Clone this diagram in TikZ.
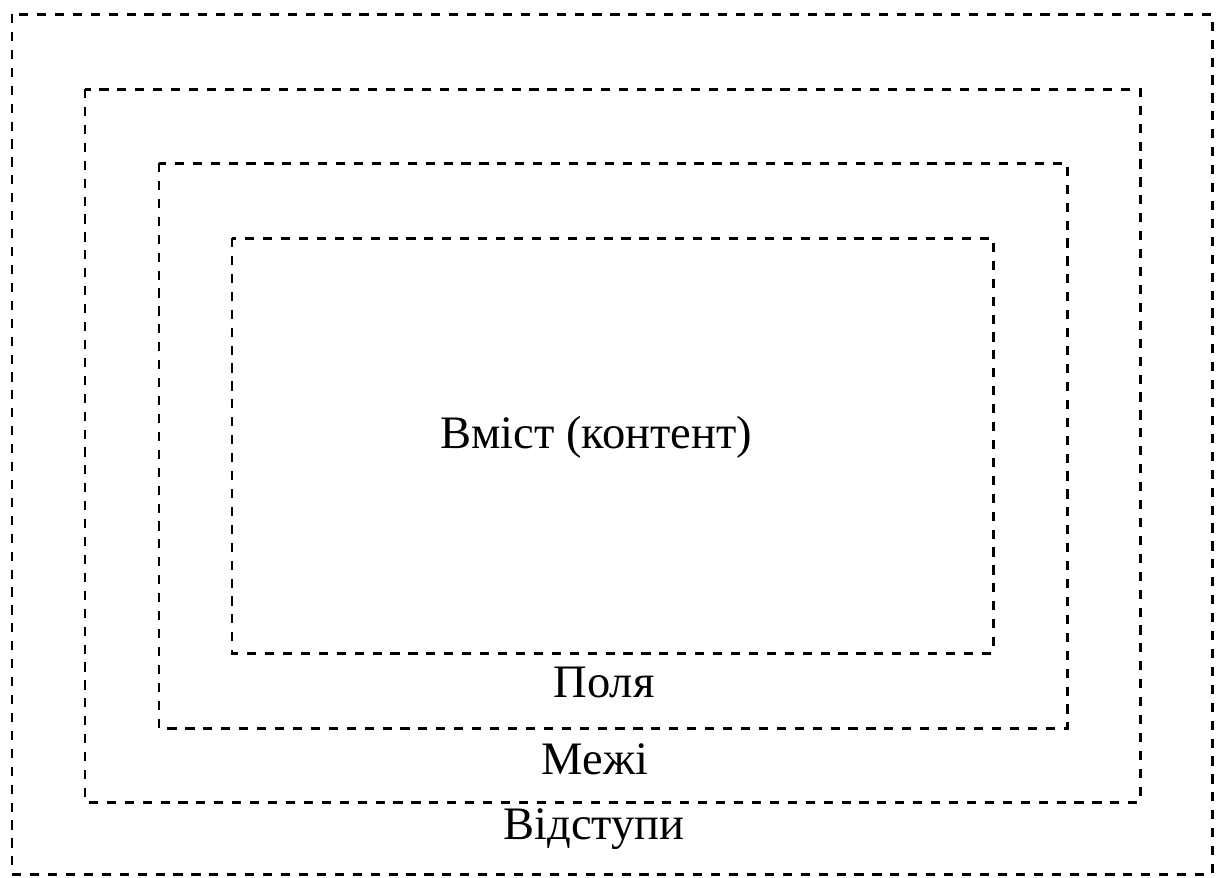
\documentclass[tikz,border=0pt]{standalone}
\usepackage{fontspec}
\newfontfamily\timescyr{LiberationSerif}[Extension=.ttf, UprightFont=*-Regular]
\usetikzlibrary{positioning}

\begin{document}
\begin{tikzpicture}[x=0.02cm, y=-0.02cm,
		box/.style={draw, line width=1.7pt, dash pattern=on 5.2pt off 5pt},
		lbl/.style={font=\timescyr\fontsize{26.5}{32}\selectfont}]
			\useasboundingbox (0,0) rectangle (1225,877);
			\draw[box] (12,14) rectangle (1212,874);
			\draw[box] (85,89) rectangle (1140,802);
			\draw[box] (159,163) rectangle (1067,728);
			\draw[box] (232,238) rectangle (993,653);
			
			\node (content) [lbl] at (596,437) {Вміст (контент)};
			\node (padding) [lbl] at (604,682) {Поля};
			\node (border) [lbl] at (595,759) {Межі};
			\node (margin) [lbl] at (594,829) {Відступи};
		\end{tikzpicture}
\end{document}
